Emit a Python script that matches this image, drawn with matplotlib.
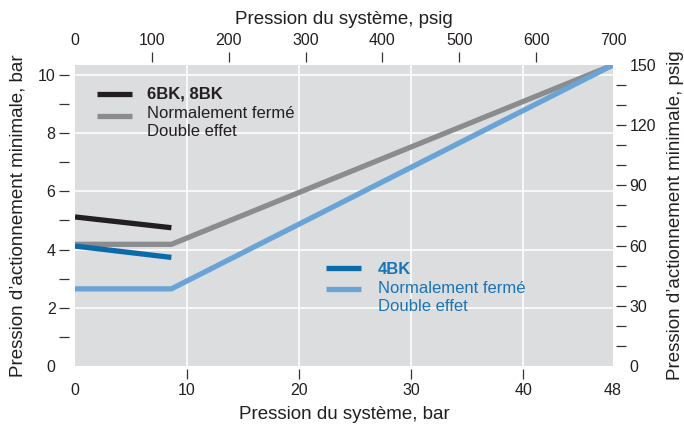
import matplotlib
matplotlib.use("Agg")
import matplotlib.pyplot as plt
from matplotlib.ticker import MultipleLocator

plt.rcParams['font.family'] = ['Liberation Sans', 'DejaVu Sans']

# data (bar)
bk68_x = [0, 8.6]
bk68_y = [5.12, 4.75]
bk68_nf_x = [0, 8.6, 48]
bk68_nf_y = [4.18, 4.18, 10.34]
bk4_x = [0, 8.6]
bk4_y = [4.12, 3.73]
bk4_nf_x = [0, 8.6, 48]
bk4_nf_y = [2.65, 2.65, 10.34]

bar_ticks = [0, 10, 20, 30, 40, 48]
psig_x_ticks = [0, 100, 200, 300, 400, 500, 600, 700]
bar_y_ticks = [0, 2, 4, 6, 8, 10]
psig_y_ticks = [0, 30, 60, 90, 120, 150]

c_black = "#231f20"
c_gray = "#8b8c8e"
c_blue = "#0b6aa9"
c_lblue = "#6aa4d6"
c_text_blue = "#1a74b8"

fig = plt.figure(figsize=(6.84, 4.25), dpi=100)
ax = fig.add_axes([75/684, 59/425, 538/684, 301/425])
ax.set_facecolor("#dcdddf")
ax.set_xlim(0, 48)
ax.set_ylim(0, 10.34)

for v in [10, 20, 30, 40]:
    ax.axvline(v, color="white", lw=1.1, zorder=1)
for v in [2, 4, 6, 8, 10]:
    ax.axhline(v, color="white", lw=1.1, zorder=1)

ax.plot(bk68_nf_x, bk68_nf_y, color=c_gray, lw=3.8, solid_capstyle="butt", zorder=3)
ax.plot(bk68_x, bk68_y, color=c_black, lw=3.8, solid_capstyle="butt", zorder=3)
ax.plot(bk4_nf_x, bk4_nf_y, color=c_lblue, lw=3.8, solid_capstyle="butt", zorder=4)
ax.plot(bk4_x, bk4_y, color=c_blue, lw=3.8, solid_capstyle="butt", zorder=4)

# legends
ax.plot([0.041, 0.106], [0.904, 0.904], transform=ax.transAxes, color=c_black, lw=3.8, solid_capstyle="butt")
ax.plot([0.041, 0.106], [0.831, 0.831], transform=ax.transAxes, color=c_gray, lw=3.8, solid_capstyle="butt")
ax.text(0.134, 0.904, "6BK, 8BK", transform=ax.transAxes, fontsize=12, fontweight="bold", color=c_black, va="center")
ax.text(0.134, 0.840, "Normalement fermé", transform=ax.transAxes, fontsize=12, color=c_black, va="center")
ax.text(0.134, 0.778, "Double effet", transform=ax.transAxes, fontsize=12, color=c_black, va="center")

ax.plot([0.467, 0.532], [0.326, 0.326], transform=ax.transAxes, color=c_blue, lw=3.8, solid_capstyle="butt")
ax.plot([0.467, 0.532], [0.256, 0.256], transform=ax.transAxes, color=c_lblue, lw=3.8, solid_capstyle="butt")
ax.text(0.563, 0.322, "4BK", transform=ax.transAxes, fontsize=12, fontweight="bold", color=c_text_blue, va="center")
ax.text(0.563, 0.259, "Normalement fermé", transform=ax.transAxes, fontsize=12, color=c_text_blue, va="center")
ax.text(0.563, 0.199, "Double effet", transform=ax.transAxes, fontsize=12, color=c_text_blue, va="center")

# bottom / left axes
for s in ax.spines.values():
    s.set_visible(False)
ax.spines["left"].set_position(("outward", 4))
ax.spines["bottom"].set_position(("outward", 2))
ax.set_xticks(bar_ticks)
ax.set_yticks(bar_y_ticks)
ax.yaxis.set_minor_locator(MultipleLocator(1))
ax.tick_params(axis="both", which="both", direction="out", length=7, width=0.9, color="#333333",
               labelsize=11.5, labelcolor="#231f20", pad=3)
ax.set_xlabel("Pression du système, bar", fontsize=13.5, color="#231f20", labelpad=6)
ax.set_ylabel("Pression d\u2019actionnement minimale, bar", fontsize=13.5, color="#231f20", labelpad=8)

# top axis (psig)
axt = ax.twiny()
axt.set_xlim(0, 700)
axt.set_xticks(psig_x_ticks)
for s in axt.spines.values():
    s.set_visible(False)
axt.spines["top"].set_position(("outward", 2))
axt.tick_params(axis="x", direction="out", length=7, width=0.9, color="#333333",
                labelsize=11.5, labelcolor="#231f20", pad=3)
axt.set_xlabel("Pression du système, psig", fontsize=13.5, color="#231f20", labelpad=7)

# right axis (psig)
axr = ax.twinx()
axr.set_ylim(0, 150)
axr.set_yticks(psig_y_ticks)
axr.yaxis.set_minor_locator(MultipleLocator(10))
for s in axr.spines.values():
    s.set_visible(False)
axr.spines["right"].set_position(("outward", 2))
axr.tick_params(axis="y", which="both", direction="out", length=7, width=0.9, color="#333333",
                labelsize=11.5, labelcolor="#231f20", pad=3)
axr.set_ylabel("Pression d\u2019actionnement minimale, psig", fontsize=13.5, color="#231f20", labelpad=8)

# no tick marks at the ends
xt = ax.xaxis.get_major_ticks()
xt[0].tick1line.set_visible(False)
xt[-1].tick1line.set_visible(False)
ax.yaxis.get_major_ticks()[0].tick1line.set_visible(False)
tt = axt.xaxis.get_major_ticks()
tt[0].tick2line.set_visible(False)
tt[-1].tick2line.set_visible(False)
rt = axr.yaxis.get_major_ticks()
rt[0].tick2line.set_visible(False)
rt[-1].tick2line.set_visible(False)

fig.savefig("out.png", dpi=100)
